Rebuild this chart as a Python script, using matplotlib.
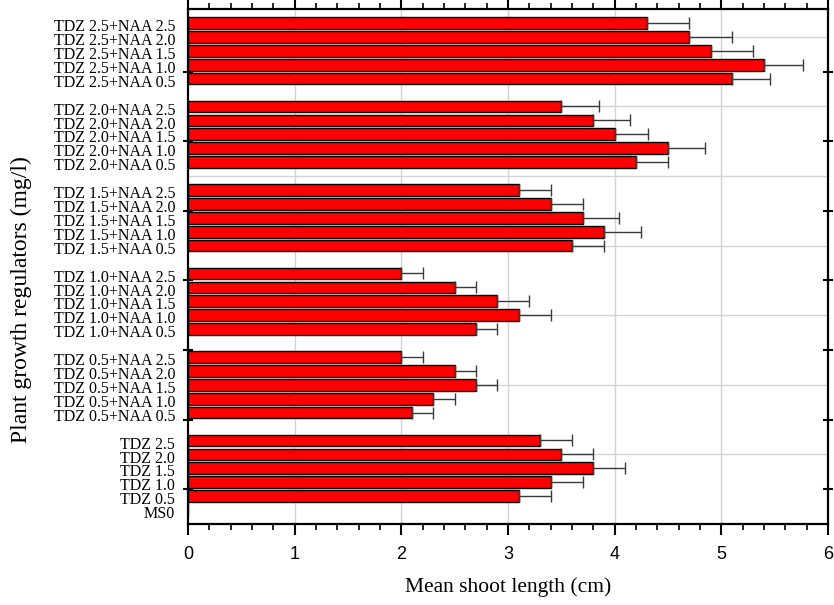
import numpy as np
import matplotlib
matplotlib.use("Agg")
import matplotlib.pyplot as plt
from matplotlib.ticker import MultipleLocator, FixedLocator

# treatments from bottom to top
treatments = ["MS0",
              "TDZ 0.5", "TDZ 1.0", "TDZ 1.5", "TDZ 2.0", "TDZ 2.5",
              "TDZ 0.5+NAA 0.5", "TDZ 0.5+NAA 1.0", "TDZ 0.5+NAA 1.5", "TDZ 0.5+NAA 2.0", "TDZ 0.5+NAA 2.5",
              "TDZ 1.0+NAA 0.5", "TDZ 1.0+NAA 1.0", "TDZ 1.0+NAA 1.5", "TDZ 1.0+NAA 2.0", "TDZ 1.0+NAA 2.5",
              "TDZ 1.5+NAA 0.5", "TDZ 1.5+NAA 1.0", "TDZ 1.5+NAA 1.5", "TDZ 1.5+NAA 2.0", "TDZ 1.5+NAA 2.5",
              "TDZ 2.0+NAA 0.5", "TDZ 2.0+NAA 1.0", "TDZ 2.0+NAA 1.5", "TDZ 2.0+NAA 2.0", "TDZ 2.0+NAA 2.5",
              "TDZ 2.5+NAA 0.5", "TDZ 2.5+NAA 1.0", "TDZ 2.5+NAA 1.5", "TDZ 2.5+NAA 2.0", "TDZ 2.5+NAA 2.5"]

shoot_len = [0,
             3.1, 3.4, 3.8, 3.5, 3.3,
             2.1, 2.3, 2.7, 2.5, 2.0,
             2.7, 3.1, 2.9, 2.5, 2.0,
             3.6, 3.9, 3.7, 3.4, 3.1,
             4.2, 4.5, 4.0, 3.8, 3.5,
             5.1, 5.4, 4.9, 4.7, 4.3]

sd = [0,
      0.3, 0.3, 0.3, 0.3, 0.3,
      0.2, 0.2, 0.2, 0.2, 0.2,
      0.2, 0.3, 0.3, 0.2, 0.2,
      0.3, 0.35, 0.34, 0.3, 0.3,
      0.3, 0.35, 0.31, 0.34, 0.35,
      0.36, 0.37, 0.4, 0.4, 0.4]

# slot positions: MS0 at 1, then groups of 5 with an empty slot between
pos = [1] + [2 + 6 * g + i for g in range(6) for i in range(5)]
pos = np.array(pos, dtype=float)
shoot_len = np.array(shoot_len)
sd = np.array(sd)

plt.rcParams["font.family"] = ["Liberation Serif", "DejaVu Serif"]

fig = plt.figure(figsize=(8.34, 6.05), dpi=100)
ax = fig.add_axes([188 / 834, 81 / 605, 640 / 834, 515 / 605])

ax.barh(pos, shoot_len, height=0.84, color="#ff0000", edgecolor="#000000",
        linewidth=1.0, zorder=3)
m = shoot_len > 0
ax.errorbar(shoot_len[m], pos[m], xerr=[np.zeros(m.sum()), sd[m]], fmt="none",
            ecolor="#3a3a3a", elinewidth=1.0, capsize=4, capthick=1.0, zorder=4)

ax.set_xlim(0, 6)
ax.set_ylim(0, 37)

ax.xaxis.set_major_locator(MultipleLocator(1))
ax.xaxis.set_minor_locator(MultipleLocator(0.2))
ax.yaxis.set_major_locator(FixedLocator(np.arange(2.5, 37, 5)))
ax.set_yticklabels([])

# grid
for gx in range(1, 6):
    ax.axvline(gx, color="#d3d3d3", linewidth=1.0, zorder=1)
for gy in range(5, 37, 5):
    ax.axhline(gy, color="#d3d3d3", linewidth=1.0, zorder=1)

ax.tick_params(axis="x", which="major", direction="out", length=8, width=1.5,
               labelsize=13, pad=8, top=True)
ax.tick_params(axis="x", which="minor", direction="out", length=4, width=1.2, top=True)
ax.tick_params(axis="y", which="major", direction="inout", length=7, width=1.5, right=True)
for lab in ax.get_xticklabels():
    lab.set_fontfamily("Liberation Sans")

for sp in ax.spines.values():
    sp.set_linewidth(1.6)

for name, y in zip(treatments, pos):
    ax.text(-0.02, y - 0.3, name, transform=ax.get_yaxis_transform(),
            ha="right", va="center", fontsize=11.5)

ax.set_xlabel("Mean shoot length (cm)", fontsize=15.5, labelpad=10)
ax.set_ylabel("Plant growth regulators (mg/l)", fontsize=17)
ax.yaxis.set_label_coords(-0.244, 0.435)

fig.savefig("out.png", dpi=100)
